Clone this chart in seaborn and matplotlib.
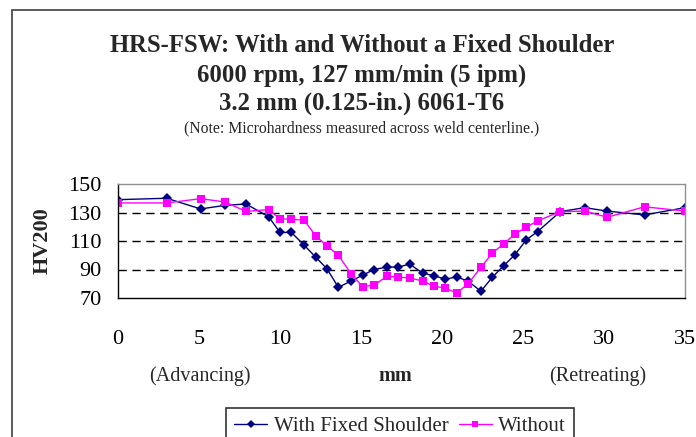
import matplotlib
matplotlib.use("Agg")
import matplotlib.pyplot as plt
import seaborn as sns
import pandas as pd
from matplotlib.ticker import MultipleLocator
from matplotlib.patches import Rectangle
from matplotlib.lines import Line2D

# ---- data ----
position_mm = [0, 3.0, 5.1, 6.6, 7.9, 9.3, 10.0, 10.7, 11.5, 12.2, 12.9, 13.6, 14.4,
               15.1, 15.8, 16.6, 17.3, 18.0, 18.8, 19.5, 20.2, 20.9, 21.6, 22.4,
               23.1, 23.8, 24.5, 25.2, 25.9, 27.3, 28.8, 30.2, 32.5, 35.0]
with_fixed = [139, 140, 132.5, 135, 136, 127, 116, 116, 107, 98.7, 90.5, 77.5, 82,
              86, 90, 91.7, 91.7, 93.8, 87.5, 85.6, 83.3, 84.7, 82, 74.7,
              84.5, 92.6, 100.3, 110.8, 116.6, 130.6, 133.4, 131, 128.3, 133.4]
without = [136.7, 136.7, 139.7, 137.4, 130.8, 132, 125.4, 125.4, 124.5, 113.6, 106.6,
           100, 86.8, 78, 79, 85.2, 84.7, 84, 82, 78.2, 77, 73.5, 79.8, 91.5,
           101.5, 108, 114.8, 119.7, 124.1, 130.6, 131, 126.7, 134, 131]
series_names = ["With Fixed Shoulder", "Without"]
x_ticks = [0, 5, 10, 15, 20, 25, 30, 35]
y_ticks = [70, 90, 110, 130, 150]

df = pd.concat([
    pd.DataFrame({"mm": position_mm, "HV200": with_fixed, "series": series_names[0]}),
    pd.DataFrame({"mm": position_mm, "HV200": without, "series": series_names[1]}),
])

sns.set_theme(style="white")
plt.rcParams['font.family'] = ['Liberation Serif', 'DejaVu Serif']

fig = plt.figure(figsize=(6.96, 4.37), dpi=100)
ax = fig.add_axes([118/696, 1-298/437, (685-118)/696, (298-184)/437])

# outer chart-area frame
fig.patches.append(Rectangle((12/696, -0.05), 1.2, 1 - 10/437 + 0.05,
                             transform=fig.transFigure, fill=False,
                             edgecolor="#404040", linewidth=1.2))

palette = {series_names[0]: "#000080", series_names[1]: "#FF00FF"}
markers = {series_names[0]: "D", series_names[1]: "s"}
sns.lineplot(data=df, x="mm", y="HV200", hue="series", style="series",
             palette=palette, markers=markers, dashes=False, sort=False,
             markersize=5.5, linewidth=1.0, markeredgewidth=0, ax=ax, legend=False)

ax.set_xlim(0, 35)
ax.set_ylim(70, 150)
ax.set_xticks(x_ticks)
ax.set_yticks(y_ticks)
ax.yaxis.set_minor_locator(MultipleLocator(4))
for y in [90, 110, 130]:
    ax.axhline(y, color="black", linestyle=(0, (6, 4)), linewidth=1.0, zorder=0)

for side in ["top", "right"]:
    ax.spines[side].set_color("#909090")
    ax.spines[side].set_linewidth(1.0)
for side in ["left", "bottom"]:
    ax.spines[side].set_color("black")
    ax.spines[side].set_linewidth(1.0)

ax.tick_params(axis="both", which="major", labelsize=16, colors="black",
               direction="out", length=7, width=1, pad=16)
ax.tick_params(axis="y", which="major", direction="inout", length=8, pad=8)
ax.tick_params(axis="y", which="minor", direction="out", length=4, width=1)
ax.tick_params(axis="x", which="minor", length=0)
ax.set_xlabel("")
ax.set_ylabel("HV200", fontsize=16, fontweight="bold")
ax.yaxis.set_label_coords(-0.115, 0.5)

# titles
fig.text(362/696, 1-45/437, "HRS-FSW: With and Without a Fixed Shoulder",
         ha="center", va="center", fontsize=17.8, fontweight="bold")
fig.text(362/696, 1-75/437, "6000 rpm, 127 mm/min (5 ipm)",
         ha="center", va="center", fontsize=17.8, fontweight="bold")
fig.text(362/696, 1-103/437, "3.2 mm (0.125-in.) 6061-T6",
         ha="center", va="center", fontsize=17.8, fontweight="bold")
fig.text(362/696, 1-128/437, "(Note: Microhardness measured across weld centerline.)",
         ha="center", va="center", fontsize=11.3)

# axis annotations
fig.text(200/696, 1-376/437, "(Advancing)", ha="center", va="center", fontsize=14.5)
fig.text(395/696, 1-376/437, "mm", ha="center", va="center", fontsize=14.5, fontweight="bold")
fig.text(598/696, 1-376/437, "(Retreating)", ha="center", va="center", fontsize=14.5)

# legend
handles = [Line2D([], [], color=palette[n], marker=markers[n], markersize=4,
                  markeredgewidth=0, linewidth=1.0) for n in series_names]
leg = fig.legend(handles, series_names, loc="upper center",
                 bbox_to_anchor=(400/696, 1-408/437), ncol=2, frameon=True,
                 fontsize=15, handlelength=1.6, handletextpad=0.3,
                 columnspacing=0.5, borderpad=0.4, fancybox=False,
                 borderaxespad=0)
leg.get_frame().set_edgecolor("black")
leg.get_frame().set_linewidth(1.2)

fig.savefig("out.png", dpi=100)
